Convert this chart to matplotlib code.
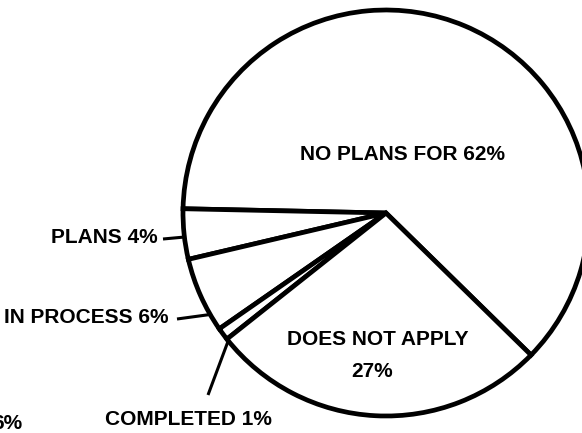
import numpy as np
import matplotlib
matplotlib.use("Agg")
import matplotlib.pyplot as plt

# pie data (percent)
labels = ["NO PLANS FOR 62%", "PLANS 4%", "IN PROCESS 6%", "COMPLETED 1%", "DOES NOT APPLY"]
shares = [62, 4, 6, 1, 27]

plt.rcParams['font.family'] = ['Liberation Sans', 'DejaVu Sans']

W, H = 582, 433
fig = plt.figure(figsize=(W / 100, H / 100), dpi=100)
ax = fig.add_axes([0, 0, 1, 1])

# pixel-like coordinates, y pointing down
cx, cy, r = 386, 213, 203
start = 44.4  # data angle; y axis is flipped so this draws at -44.4 deg

ax.pie(shares, center=(cx, cy), radius=r, startangle=start, counterclock=False,
       colors=['white'] * len(shares),
       wedgeprops=dict(edgecolor='black', linewidth=3.4, joinstyle='miter'))
ax.set_xlim(0, W)
ax.set_ylim(H, 0)
ax.set_aspect('equal')
ax.axis('off')

fs = 15
kw = dict(fontsize=fs, fontweight='bold', color='black')

# labels inside the pie
ax.text(403, 160, labels[0], ha='center', va='baseline', **kw)
ax.text(378, 345, labels[4], ha='center', va='baseline', **kw)
ax.text(372, 377, "27%", ha='center', va='baseline', **kw)

# outside labels with leader lines
ax.text(158, 243, labels[1], ha='right', va='baseline', **kw)
ax.text(168, 323, labels[2], ha='right', va='baseline', **kw)
ax.text(105, 425, labels[3], ha='left', va='baseline', **kw)
# leftover label from a neighbouring chart, cut by the page edge
ax.text(22, 429, "6%", ha='right', va='baseline', **kw)


def rim(angle):
    # point on the circle at a visual angle (degrees, counterclockwise)
    a = np.radians(angle)
    return cx + r * np.cos(a), cy - r * np.sin(a)


leaders = [((163, 239), 186.8), ((177, 319), 210.0), ((208, 395), 219.0)]
for (x0, y0), ang in leaders:
    x1, y1 = rim(ang)
    ax.plot([x0, x1], [y0, y1], color='black', linewidth=2.2, solid_capstyle='butt')

fig.savefig("out.png", dpi=100, facecolor='white')
